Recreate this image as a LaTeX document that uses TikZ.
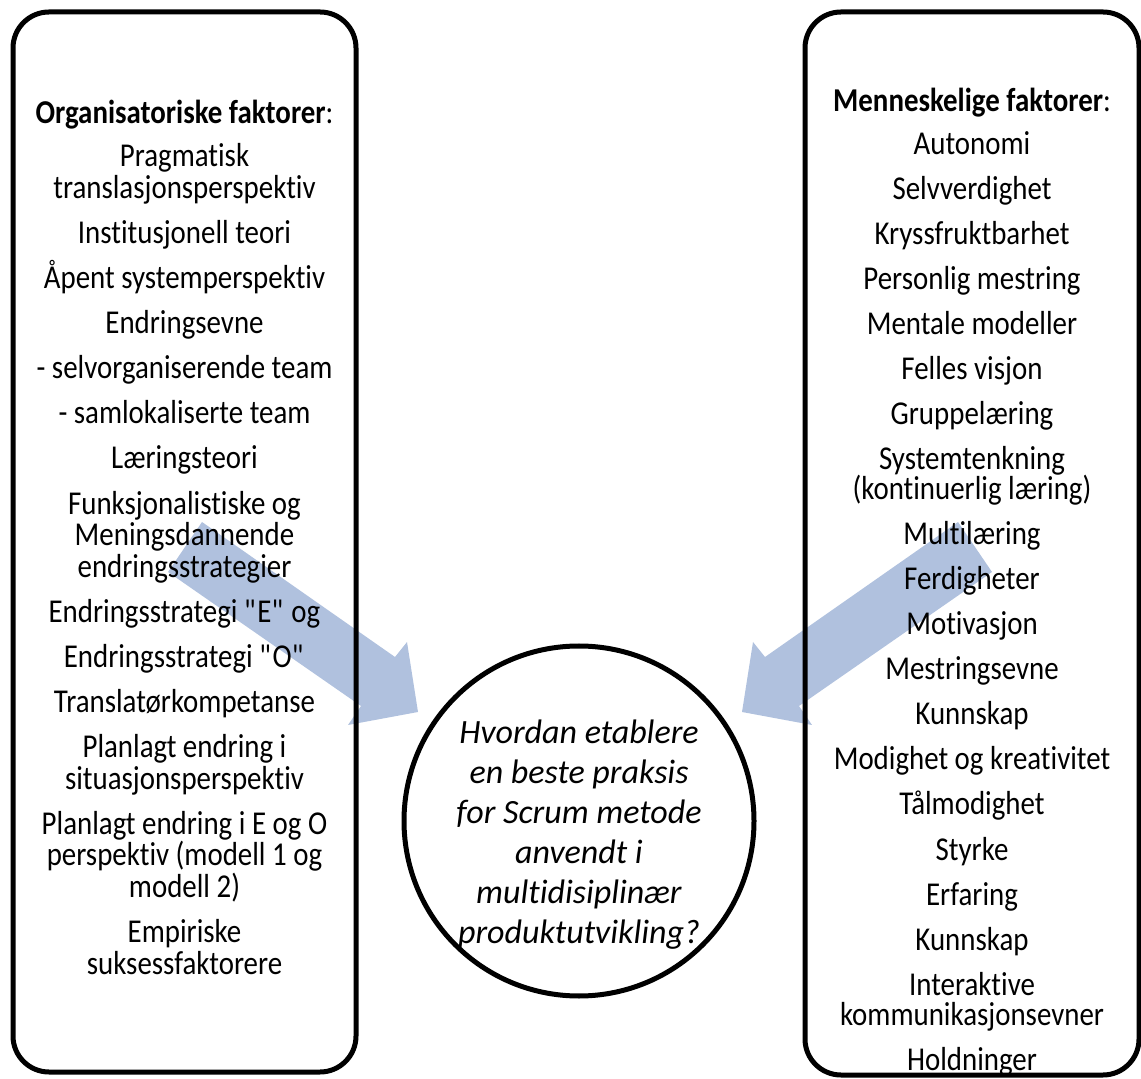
\documentclass[tikz,border=0pt]{standalone}
\usepackage{fontspec}
\setmainfont[Ligatures=NoCommon]{Carlito}
\newfontfamily\colfont[FakeStretch=0.867,Ligatures=NoCommon]{Carlito}
\usepackage{tkz-euclide}
\definecolor{arrowblue}{RGB}{176,193,222}
\newcommand\tightlines{\lineskiplimit=-1000pt\relax}
\tikzset{
  factorbox/.style={draw, line width=3.75pt, rounded corners=27pt},
  factortext/.style={align=center, inner sep=0pt, anchor=north},
}
\begin{document}
\begin{tikzpicture}[x=0.75pt,y=0.75pt]
            \useasboundingbox (0,0) rectangle (1141,1078);
            % block arrows towards the question
            \tkzDefPoints{202/556/A1,168/506/A2,361/372/A3,348/353/A4,418/366/A5,407/436/A6,395/421/A7}
            \tkzDefPoints{958/556/B1,992/506/B2,799/372/B3,812/353/B4,742/366/B5,753/436/B6,765/421/B7}
            \tkzFillPolygon[color=arrowblue](A1,A7,A6,A5,A4,A3,A2)
            \tkzFillPolygon[color=arrowblue](B1,B7,B6,B5,B4,B3,B2)
            % the two boxes
            \draw[factorbox] (13,6) rectangle (356,1066);
            \draw[factorbox] (805,3) rectangle (1139,1066);
            \tkzDefPoint(184.5,978){O}
            \tkzDefPoint(972,990){M}
            \node[factortext, font=\colfont\fontsize{25}{23.7}\selectfont\tightlines] (org) at (O) {%
              \textbf{Organisatoriske faktorer}:\\[8.8pt]
              Pragmatisk\\ translasjonsperspektiv\\[10.1pt]
              Institusjonell teori\\[10.1pt]
              Åpent systemperspektiv\\[10.1pt]
              Endringsevne\\[10.1pt]
              - selvorganiserende team\\[10.1pt]
              - samlokaliserte team\\[10.1pt]
              Læringsteori\\[10.1pt]
              Funksjonalistiske og\\ Meningsdannende\\ endringsstrategier\\[10.1pt]
              Endringsstrategi \textquotedbl E\textquotedbl{} og\\[10.1pt]
              Endringsstrategi \textquotedbl O\textquotedbl\\[10.1pt]
              Translatørkompetanse\\[10.1pt]
              Planlagt endring i\\ situasjonsperspektiv\\[10.1pt]
              Planlagt endring i E og O\\ perspektiv (modell 1 og\\ modell 2)\\[10.1pt]
              Empiriske\\ suksessfaktorere};
            \node[factortext, font=\colfont\fontsize{25}{22.5}\selectfont\tightlines] (human) at (M) {%
              \textbf{Menneskelige faktorer}:\\[9.3pt]
              Autonomi\\[11.3pt]
              Selvverdighet\\[11.3pt]
              Kryssfruktbarhet\\[11.3pt]
              Personlig mestring\\[11.3pt]
              Mentale modeller\\[11.3pt]
              Felles visjon\\[11.3pt]
              Gruppelæring\\[11.3pt]
              Systemtenkning\\ (kontinuerlig læring)\\[11.3pt]
              Multilæring\\[11.3pt]
              Ferdigheter\\[11.3pt]
              Motivasjon\\[11.3pt]
              Mestringsevne\\[11.3pt]
              Kunnskap\\[11.3pt]
              Modighet og kreativitet\\[11.3pt]
              Tålmodighet\\[11.3pt]
              Styrke\\[11.3pt]
              Erfaring\\[11.3pt]
              Kunnskap\\[11.3pt]
              Interaktive\\ kommunikasjonsevner\\[11.3pt]
              Holdninger};
            % the question in the middle
            \tkzDefPoint(579,257){Q}
            \node[circle, draw, fill=white, line width=3.75pt, minimum size=262.5pt] (question) at (Q) {};
            \node[factortext, font=\fontsize{25.5}{30}\selectfont\itshape\tightlines] (questiontext) at (579,358) {%
              Hvordan etablere\\ en beste praksis\\ for Scrum metode\\ anvendt i\\ multidisiplinær\\ produktutvikling?};
        \end{tikzpicture}
\end{document}
